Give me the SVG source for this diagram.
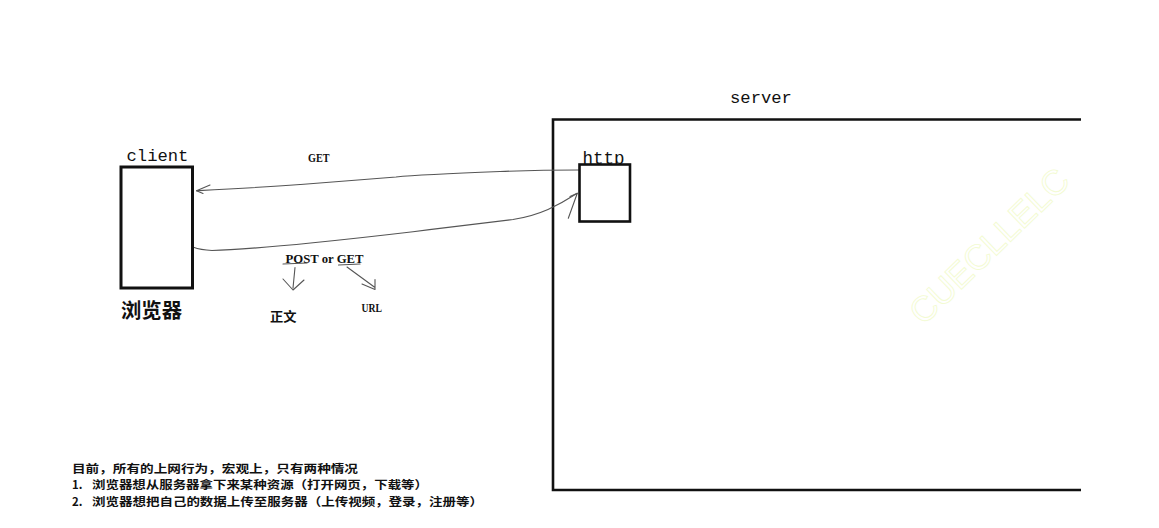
<svg xmlns="http://www.w3.org/2000/svg" width="1159" height="528" viewBox="0 0 1159 528">
<style>
.mono{font-family:"Liberation Mono","DejaVu Sans Mono",monospace;fill:#111}
.ser{font-family:"Liberation Serif","Noto Sans CJK SC",serif;fill:#111}
.cjk{font-family:"Noto Sans CJK SC","Noto Sans",sans-serif;fill:#111}
.box{fill:#fff;stroke:#111}
.wire{fill:none;stroke:#555;stroke-width:1.1;stroke-linecap:round;stroke-linejoin:round}
</style>
<rect width="1159" height="528" fill="#fff"/>
<text x="991" y="248" transform="rotate(-44 991 248)" text-anchor="middle" dominant-baseline="middle" font-family="Liberation Sans,sans-serif" font-size="35" fill="none" stroke="#f3fbd2" stroke-width="0.9">CUECLLELC</text>

<g id="server">
  <text class="mono" x="730" y="102.5" font-size="17.2">server</text>
  <path d="M1081,119.5 H553 V490 H1081" fill="none" stroke="#111" stroke-width="2.6"/>
</g>

<g id="connectors">
  <path class="wire" d="M578.5,170 C560,170 540,170 500,171.5 C460,173 420,174.5 396,177 C360,180 330,182 300,184.5 C260,187.5 230,189 196.5,190.7"/>
  <path class="wire" d="M210,185 L196.5,190.7 L203,193.5"/>
  <path class="wire" d="M193.5,247.3 C198,249 202,250 212,250.5 C240,250 280,246 313,242.7 C350,239 385,235 413,231.7 C450,227 490,222.5 513,219.5 C530,217 540,213 548,209.5 C560,204 570,198 577.3,193.3"/>
  <path class="wire" d="M568.3,218.3 L577.3,193.3 L570,196.5"/>
  <path class="wire" d="M283,264 L307,263 M338.5,265 L360,264"/>
  <path class="wire" d="M295,267.5 L293,288 M283,279 L293,290 L304,280"/>
  <path class="wire" d="M347,267 L375,287.5 M362,284 L375,289.5 L375,279.5"/>
</g>

<g id="http">
  <text class="mono" x="582.5" y="164" font-size="17.5">http</text>
  <rect class="box" x="579.5" y="164.5" width="50.5" height="57" stroke-width="2.6"/>
</g>

<g id="client">
  <text class="mono" x="126.5" y="161" font-size="17.2">client</text>
  <rect class="box" x="121" y="167" width="71.5" height="121" stroke-width="3"/>
  <text class="cjk" x="121" y="318" font-size="20.5" font-weight="bold" textLength="61" lengthAdjust="spacingAndGlyphs">浏览器</text>
</g>

<g id="labels">
  <text class="ser" x="308" y="161.8" font-size="12.5" font-weight="bold" textLength="21.5" lengthAdjust="spacingAndGlyphs">GET</text>
  <text class="ser" x="285.5" y="262.6" font-size="13.5" font-weight="bold" textLength="78" lengthAdjust="spacingAndGlyphs">POST or GET</text>
  <text class="cjk" x="270" y="320.5" font-size="13" font-weight="bold" textLength="26.5" lengthAdjust="spacingAndGlyphs">正文</text>
  <text class="ser" x="361.5" y="311.6" font-size="12.5" font-weight="bold" textLength="20.5" lengthAdjust="spacingAndGlyphs">URL</text>
</g>

<g id="notes" class="cjk" font-size="11.4" font-weight="bold">
  <text x="72" y="472.5" textLength="286" lengthAdjust="spacingAndGlyphs">目前，所有的上网行为，宏观上，只有两种情况</text>
  <text x="72" y="489.2">1.</text>
  <text x="92" y="489.2" textLength="336" lengthAdjust="spacingAndGlyphs">浏览器想从服务器拿下来某种资源（打开网页，下载等）</text>
  <text x="72" y="506">2.</text>
  <text x="92" y="506" textLength="391" lengthAdjust="spacingAndGlyphs">浏览器想把自己的数据上传至服务器（上传视频，登录，注册等）</text>
</g>
</svg>
